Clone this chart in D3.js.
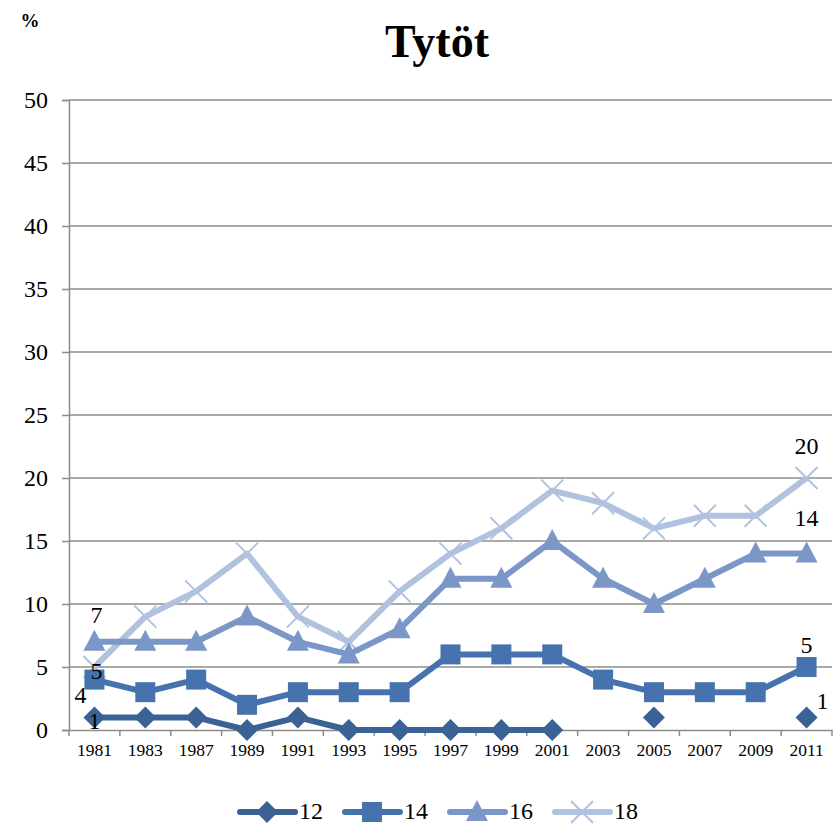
<!DOCTYPE html>
<html lang="fi">
<head>
<meta charset="UTF-8">
<title>Tytöt</title>
<script src="https://d3js.org/d3.v7.min.js"></script>
<style>
  body { margin: 0; background: #fff; }
  svg text { font-family: "Liberation Serif", "Times New Roman", serif; fill: #000; }
</style>
</head>
<body>
<div id="chart"></div>
<script>
// data
const years = ["1981","1983","1987","1989","1991","1993","1995","1997","1999","2001","2003","2005","2007","2009","2011"];
const seriesNames = ["12", "14", "16", "18"];
const s12 = [1, 1, 1, 0, 1, 0, 0, 0, 0, 0, null, 1, null, null, 1];
const s14 = [4, 3, 4, 2, 3, 3, 3, 6, 6, 6, 4, 3, 3, 3, 5];
const s16 = [7, 7, 7, 9, 7, 6, 8, 12, 12, 15, 12, 10, 12, 14, 14];
const s18 = [5, 9, 11, 14, 9, 7, 11, 14, 16, 19, 18, 16, 17, 17, 20];
const yTicks = [0, 5, 10, 15, 20, 25, 30, 35, 40, 45, 50];

const colors = ["#3a6295", "#4673ae", "#7b97c7", "#b1c2df"];
const shapes = ["diamond", "square", "triangle", "cross"];
const allSeries = [s12, s14, s16, s18];

const W = 840, H = 828;
const plot = {left: 69, right: 832, top: 100, bottom: 730};

const svg = d3.select("#chart").append("svg")
  .attr("width", W).attr("height", H);

const x = d3.scaleBand().domain(years).range([plot.left, plot.right]);
const y = d3.scaleLinear().domain([0, 50]).range([plot.bottom, plot.top]);

// gridlines
svg.append("g").selectAll("line").data(yTicks.slice(1)).join("line")
  .attr("x1", plot.left).attr("x2", plot.right)
  .attr("y1", d => y(d)).attr("y2", d => y(d))
  .attr("stroke", "#8c8c8c").attr("stroke-width", 1.5);

// y axis
const yAxis = svg.append("g")
  .attr("transform", `translate(${plot.left},0)`)
  .call(d3.axisLeft(y).tickValues(yTicks).tickSize(7).tickPadding(14));
yAxis.select(".domain").attr("stroke", "#8c8c8c").attr("stroke-width", 1.5);
yAxis.selectAll(".tick line").attr("stroke", "#8c8c8c").attr("stroke-width", 1.5);
yAxis.selectAll("text").attr("font-size", 24);

// x axis
const xAxis = svg.append("g")
  .attr("transform", `translate(0,${plot.bottom})`)
  .call(d3.axisBottom(x).tickSize(0).tickPadding(14));
xAxis.select(".domain").attr("stroke", "#8c8c8c").attr("stroke-width", 1.5);
xAxis.selectAll("text").attr("font-size", 17.5);
// tick marks between categories
const bounds = years.map(d => x(d)).concat([plot.right]);
xAxis.append("g").selectAll("line").data(bounds).join("line")
  .attr("x1", d => d).attr("x2", d => d)
  .attr("y1", 0).attr("y2", 6)
  .attr("stroke", "#8c8c8c").attr("stroke-width", 1.5);

const cx = i => x(years[i]) + x.bandwidth() / 2;

function marker(g, shape, color, px, py) {
  if (shape === "diamond") {
    g.append("path").attr("d", `M${px},${py-11}L${px+11},${py}L${px},${py+11}L${px-11},${py}Z`).attr("fill", color);
  } else if (shape === "square") {
    g.append("rect").attr("x", px-10).attr("y", py-10).attr("width", 20).attr("height", 20).attr("fill", color);
  } else if (shape === "triangle") {
    g.append("path").attr("d", `M${px},${py-12}L${px+11},${py+9}L${px-11},${py+9}Z`).attr("fill", color);
  } else {
    g.append("path").attr("d", `M${px-11},${py-11}L${px+11},${py+11}M${px+11},${py-11}L${px-11},${py+11}`)
      .attr("stroke", color).attr("stroke-width", 2);
  }
}

const line = d3.line()
  .defined(d => d.v !== null)
  .x(d => cx(d.i)).y(d => y(d.v));

// draw from back (18) to front (12)
for (let k = allSeries.length - 1; k >= 0; k--) {
  const data = allSeries[k].map((v, i) => ({v, i}));
  const g = svg.append("g");
  g.append("path").datum(data)
    .attr("fill", "none").attr("stroke", colors[k])
    .attr("stroke-width", 6).attr("stroke-linejoin", "round")
    .attr("d", line);
  data.filter(d => d.v !== null).forEach(d => marker(g, shapes[k], colors[k], cx(d.i), y(d.v)));
}

// data labels (first and last point)
const labelOffsets = [
  {first: [0, 6], last: [16, -14]},
  {first: [-14, 18], last: [0, -20]},
  {first: [2, -24], last: [0, -33]},
  {first: [2, 6], last: [0, -30]}
];
allSeries.forEach((s, k) => {
  [0, s.length - 1].forEach((i, j) => {
    const off = j === 0 ? labelOffsets[k].first : labelOffsets[k].last;
    svg.append("text")
      .attr("x", cx(i) + off[0]).attr("y", y(s[i]) + off[1])
      .attr("text-anchor", "middle").attr("dominant-baseline", "middle")
      .attr("font-size", 24).text(s[i]);
  });
});

// title and unit
svg.append("text").attr("x", 437).attr("y", 57).attr("text-anchor", "middle")
  .attr("font-size", 46).attr("font-weight", "bold").text("Tytöt");
svg.append("text").attr("x", 30).attr("y", 27).attr("text-anchor", "middle")
  .attr("font-size", 19).attr("font-weight", "bold").text("%");

// legend
const legend = svg.append("g").attr("transform", "translate(240,812)");
seriesNames.forEach((name, k) => {
  const gx = k * 105;
  const g = legend.append("g");
  g.append("line").attr("x1", gx).attr("x2", gx + 55).attr("y1", 0).attr("y2", 0)
    .attr("stroke", colors[k]).attr("stroke-width", 6).attr("stroke-linecap", "round");
  marker(g, shapes[k], colors[k], gx + 27, 0);
  g.append("text").attr("x", gx + 59).attr("y", 1).attr("dominant-baseline", "middle")
    .attr("font-size", 24).text(name);
});
</script>
</body>
</html>
